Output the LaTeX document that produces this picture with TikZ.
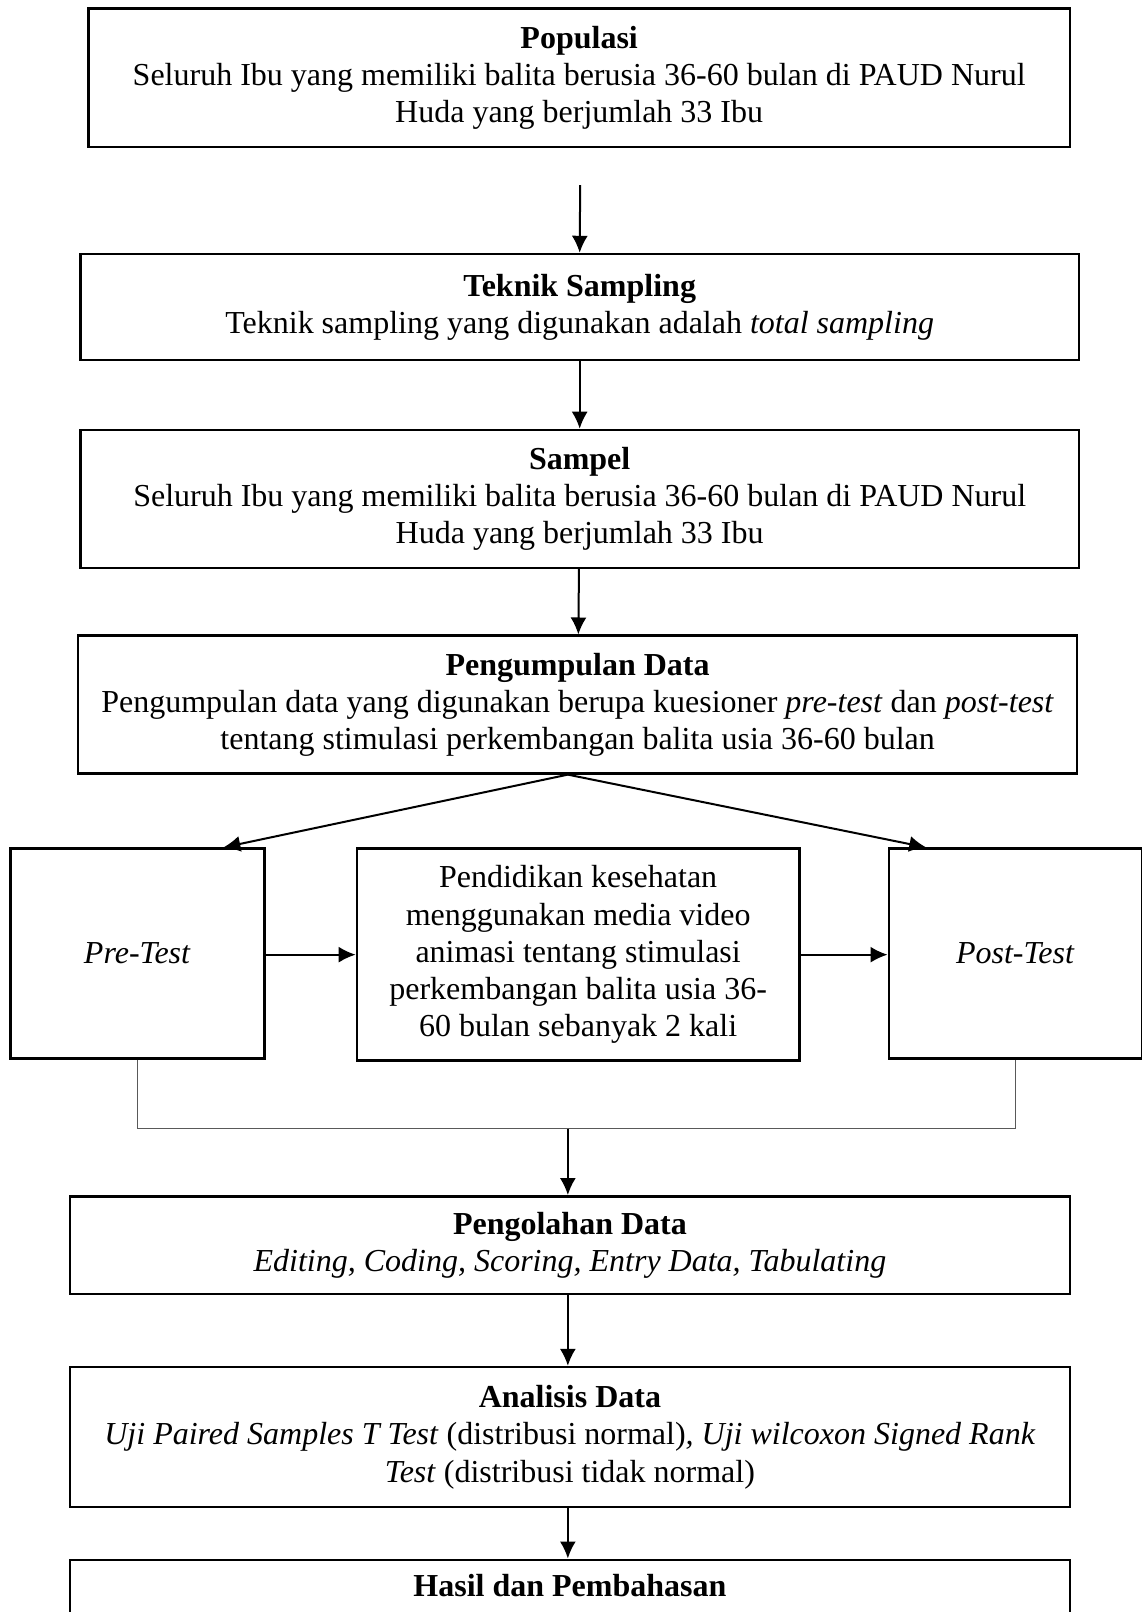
\documentclass[tikz,border=0pt]{standalone}
\usepackage{fontspec}
\setmainfont{Liberation Serif}
\usetikzlibrary{arrows.meta,calc}
\tikzset{
	box/.style={draw, line width=1.3pt, rectangle, align=center, inner sep=0pt, font=\fontsize{16}{18.6}\selectfont},
	boxtext/.style={align=center, inner sep=0pt, font=\fontsize{16}{18.6}\selectfont},
	arr/.style={line width=1pt, -{Latex[length=8.5pt,width=8pt]}},
	joinline/.style={line width=0.5pt, color=black!65}
}
\begin{document}
\begin{tikzpicture}[x=0.5144pt, y=-0.5144pt]
			%%%%% START %%%%%
			\useasboundingbox (0,0) rectangle (1110,1567);
			
			\node[box, minimum width=490.7pt, minimum height=69.4pt] (pop) at (563, 75.5) {\textbf{Populasi}\\Seluruh Ibu yang memiliki balita berusia 36-60 bulan di PAUD Nurul\\Huda yang berjumlah 33 Ibu};
			\node[box, minimum width=499.5pt, minimum height=53pt] (teknik) at (563.5, 298.5) {\textbf{Teknik Sampling}\\Teknik sampling yang digunakan adalah \textit{total sampling}};
			\node[box, minimum width=499.5pt, minimum height=68.9pt] (sampel) at (563.5, 485) {\textbf{Sampel}\\Seluruh Ibu yang memiliki balita berusia 36-60 bulan di PAUD Nurul\\Huda yang berjumlah 33 Ibu};
			\node[box, minimum width=499.5pt, minimum height=68.9pt] (kumpul) at (561.5, 685) {\textbf{Pengumpulan Data}\\Pengumpulan data yang digunakan berupa kuesioner \textit{pre-test} dan \textit{post-test}\\tentang stimulasi perkembangan balita usia 36-60 bulan};
			
			\node[box, minimum width=127.1pt, minimum height=104.9pt] (pre) at (133.5, 927) {\textit{Pre-Test}};
			\node[box, minimum width=221.2pt, minimum height=106pt] (media) at (562, 928) {Pendidikan kesehatan\\menggunakan media video\\animasi tentang stimulasi\\perkembangan balita usia 36-\\60 bulan sebanyak 2 kali};
			\node[box, minimum width=126.5pt, minimum height=104.9pt] (post) at (987, 927) {\textit{Post-Test}};
			
			\node[box, minimum width=500pt, minimum height=48.9pt] (olah) at (554, 1210.5) {\textbf{Pengolahan Data}\\\textit{Editing, Coding, Scoring, Entry Data, Tabulating}};
			\node[box, minimum width=500pt, minimum height=70pt] (analisis) at (554, 1397) {\textbf{Analisis Data}\\\textit{Uji Paired Samples T Test} (distribusi normal)\textit{, Uji wilcoxon Signed Rank}\\\textit{Test} (distribusi tidak normal)};
			\node[box, anchor=north, minimum width=500pt, minimum height=60pt] (hasil) at (554, 1515) {};
			\node[boxtext] (hasiltxt) at (554, 1541) {\textbf{Hasil dan Pembahasan}};
			
			\coordinate (start) at (564, 180);
			\coordinate (split) at (552, 753);
			\coordinate (joinL) at (133.5, 1097);
			\coordinate (joinR) at (987, 1097);
			\coordinate (joinM) at (552, 1097);
			
			\draw[arr] (start) -- (teknik.north);
			\draw[arr] (teknik) -- (sampel);
			\draw[arr] (sampel) -- (kumpul);
			\draw[arr] (split) -- (pre.51);
			\draw[arr] (split) -- (post.130);
			\draw[arr] (pre.east |- media.west) -- (media.west);
			\draw[arr] (media.east) -- (post.west |- media.east);
			\draw[joinline] (pre.south) -- (joinL) -- (joinR) -- (post.south);
			\draw[arr] (joinM) -- (olah.north -| joinM);
			\draw[arr] (olah.south -| joinM) -- (analisis.north -| joinM);
			\draw[arr] (analisis.south -| joinM) -- (hasil.north -| joinM);
			
			%%%%% END %%%%%
\end{tikzpicture}
\end{document}
